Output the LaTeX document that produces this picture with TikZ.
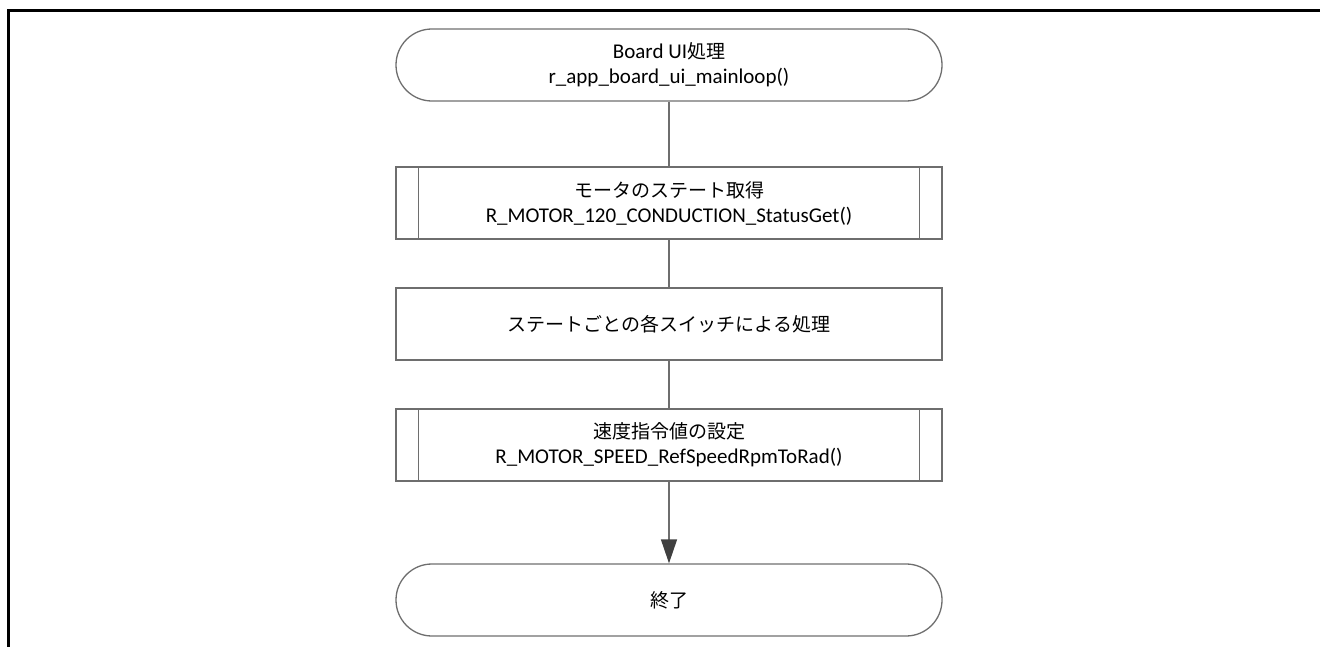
\documentclass[tikz,border=0pt]{standalone}
\usepackage{fontspec}
\setmainfont{Carlito}
\newfontfamily\jp{Noto Sans CJK JP}
\usetikzlibrary{arrows.meta}
\definecolor{edge}{HTML}{6E6E6E}
\definecolor{tip}{HTML}{404040}
\tikzset{
  base/.style={draw=edge, line width=1.3pt, minimum width=546pt, minimum height=72pt,
    inner sep=0pt, align=center, font=\fontsize{21pt}{25pt}\selectfont},
  term/.style={base, rounded corners=35.9pt},
  proc/.style={base},
  link/.style={draw=edge, line width=1.3pt},
  frame/.style={line width=3pt, black}
}
\begin{document}
\begin{tikzpicture}[x=1pt, y=-1pt]
\useasboundingbox (0,0) rectangle (1320,647);
\draw[frame] (8,647) -- (8,11) -- (1320,11);
\node[term] (start) at (669,65) {Board UI{\jp\fontsize{19pt}{25pt}\selectfont 処理}\\r\_app\_board\_ui\_mainloop()};
\node[proc] (s1) at (669,203) {{\jp\fontsize{19pt}{25pt}\selectfont モータのステート取得}\\R\_MOTOR\_120\_CONDUCTION\_StatusGet()};
\node[proc] (s2) at (669,324) {{\jp\fontsize{19pt}{25pt}\selectfont ステートごとの各スイッチによる処理}};
\node[proc] (s3) at (669,445) {{\jp\fontsize{19pt}{25pt}\selectfont 速度指令値の設定}\\R\_MOTOR\_SPEED\_RefSpeedRpmToRad()};
\node[term] (end) at (669,600) {{\jp\fontsize{19pt}{25pt}\selectfont 終了}};
\foreach \n in {s1,s3}{
  \draw[link] ([xshift=23pt]\n.north west) -- ([xshift=23pt]\n.south west);
  \draw[link] ([xshift=-23pt]\n.north east) -- ([xshift=-23pt]\n.south east);
}
\draw[link] (start) -- (s1);
\draw[link] (s1) -- (s2);
\draw[link] (s2) -- (s3);
\draw[link, -{Triangle[length=24pt, width=16pt, fill=tip, color=tip]}] (s3) -- (end);
\end{tikzpicture}
\end{document}
